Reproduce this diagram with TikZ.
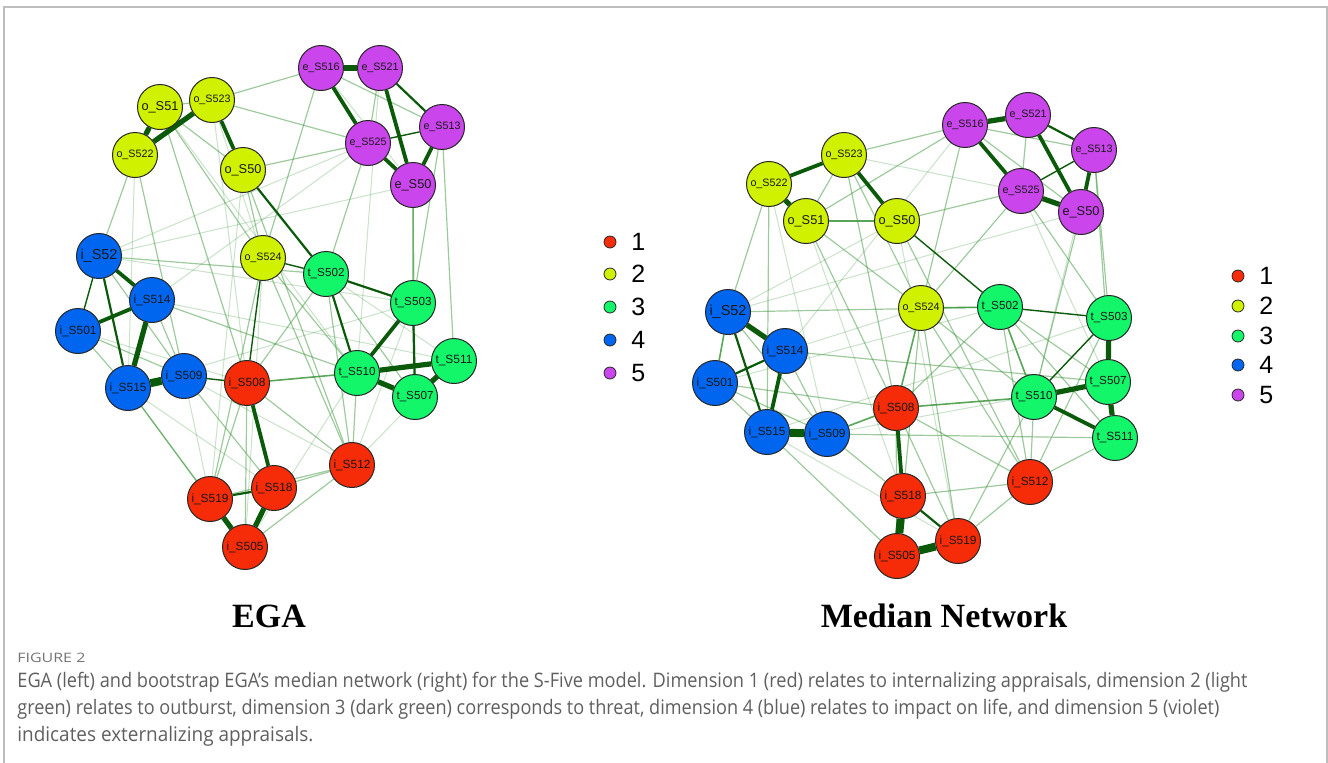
\documentclass[tikz,border=0pt]{standalone}
\usepackage{fontspec}
\setmainfont{Liberation Sans}
\newfontfamily\titlefont{Liberation Serif}
\newfontfamily\capfont{Open Sans}
\usetikzlibrary{backgrounds}
\definecolor{dimA}{RGB}{246,44,8}
\definecolor{dimB}{RGB}{208,242,0}
\definecolor{dimC}{RGB}{20,246,106}
\definecolor{dimD}{RGB}{0,102,240}
\definecolor{dimE}{RGB}{202,70,236}
\definecolor{edg}{RGB}{10,90,10}
\definecolor{edglite}{RGB}{60,150,60}
\definecolor{framegray}{RGB}{190,190,190}
\definecolor{capgray}{RGB}{95,95,95}
\newcommand{\nlab}[1]{\resizebox{18.5pt}{!}{#1}}
\newcommand{\capline}[2]{\resizebox{#1}{\height}{#2}}

\begin{document}
\begin{tikzpicture}[x=.5pt,y=-.5pt,
  nd/.style={circle,draw=black!85,line width=.5pt,minimum size=22.5pt,inner sep=0pt,text=black!90},
  vthk/.style={edg,line width=4pt},
  thk/.style={edg,line width=2.6pt},
  mid/.style={edg,line width=1.9pt},
  drk/.style={edg,line width=1.1pt},
  thn/.style={edg,line width=.7pt},
  med/.style={edglite,line width=.8pt,opacity=.85},
  fnt/.style={edglite,line width=.6pt,opacity=.5},
  vfnt/.style={edglite,line width=.5pt,opacity=.28},
  dot/.style={circle,draw=black!85,line width=.4pt,minimum size=6pt,inner sep=0pt},
  num/.style={font=\fontsize{12.5}{12.5}\selectfont,anchor=west,inner sep=0pt}]
\useasboundingbox (0,0) rectangle (1328,762);
\draw[framegray,line width=1pt] (4,770) -- (4,7) -- (1327,7) -- (1327,770);

% EGA
\foreach \nm/\lb/\px/\py/\cl in {
  e516/e\_S516/321/68/dimE, e521/e\_S521/380/68/dimE, e513/e\_S513/442/127/dimE,
  e525/e\_S525/368/143/dimE, e50/e\_S50/413/185/dimE,
  o51/o\_S51/160/107/dimB, o523/o\_S523/212/100/dimB, o522/o\_S522/135/155/dimB,
  o50/o\_S50/243/170/dimB, o524/o\_S524/263/258/dimB,
  i52/i\_S52/99/256/dimD, i514/i\_S514/152/300/dimD, i501/i\_S501/78/331/dimD,
  i515/i\_S515/128/388/dimD, i509/i\_S509/184/376/dimD,
  t502/t\_S502/326/274/dimC, t503/t\_S503/413/303/dimC, t510/t\_S510/357/373/dimC,
  t511/t\_S511/454/361/dimC, t507/t\_S507/415/397/dimC,
  i508/i\_S508/247/383/dimA, i512/i\_S512/352/465/dimA, i518/i\_S518/274/488/dimA,
  i519/i\_S519/210/499/dimA, i505/i\_S505/245/547/dimA}
  \node[nd,fill=\cl] (L\nm) at (\px,\py) {\nlab{\lb}};

\begin{pgfonlayer}{background}
\foreach \a/\b in {o523/o524,o523/i508,o522/i515,o51/t510,o50/i519,e516/e50,e521/t510,
  e525/i514,e50/i52,i52/t503,i501/i508,i515/i518,i509/i512,i509/i519,o524/i505,
  t502/t511,t503/i512,t511/i512,i505/t510,t503/i515,i514/t511,i52/e525}
  \draw[vfnt] (L\a) -- (L\b);
\foreach \a/\b in {o51/o523,o51/o50,o523/e516,o523/e525,o522/i52,o522/i509,o51/i508,
  o51/o524,o50/o524,o50/e525,o50/i512,e516/o524,e516/e513,e521/e525,e525/t502,
  e513/t511,e513/t503,e50/t503,e50/t507,i52/t502,i52/i509,i514/t510,i514/i509,
  i501/i515,i501/i509,i515/i519,i515/i505,i509/i518,i508/i505,i508/i519,i508/i512,
  i508/t502,o524/i519,o524/i512,o524/t510,t502/i512,t502/t507,t510/i512,i518/i512,
  i519/i512,i505/i512}
  \draw[fnt] (L\a) -- (L\b);
\foreach \a/\b in {e525/e513,o524/t502,i52/i501,i508/o524,i509/i508}
  \draw[thn] (L\a) -- (L\b);
\draw[med] (Li508) -- (Lt510);
\foreach \a/\b in {e521/e513,o50/t502,t502/t503,t502/t510,t503/t507,i52/i515,i518/i519}
  \draw[drk] (L\a) -- (L\b);
\foreach \a/\b in {e516/e525,e521/e50,e513/e50,e525/e50,o523/o50,i52/i514,i501/i514,
  i508/i518,t503/t510}
  \draw[mid] (L\a) -- (L\b);
\foreach \a/\b in {e516/e521,o51/o522,o522/o523,i515/i514,i518/i505,i519/i505,
  t510/t511,t510/t507,t507/t511}
  \draw[thk] (L\a) -- (L\b);
\draw[vthk] (Li515) -- (Li509);
\end{pgfonlayer}

% Median network
\foreach \nm/\lb/\px/\py/\cl in {
  e516/e\_S516/965/125/dimE, e521/e\_S521/1028/115/dimE, e513/e\_S513/1094/150/dimE,
  e525/e\_S525/1021/191/dimE, e50/e\_S50/1081/212/dimE,
  o523/o\_S523/844/155/dimB, o522/o\_S522/769/184/dimB, o51/o\_S51/806/221/dimB,
  o50/o\_S50/897/221/dimB, o524/o\_S524/921/308/dimB,
  i52/i\_S52/728/312/dimD, i514/i\_S514/785/351/dimD, i501/i\_S501/715/383/dimD,
  i515/i\_S515/767/432/dimD, i509/i\_S509/827/434/dimD,
  t502/t\_S502/1000/307/dimC, t503/t\_S503/1109/318/dimC, t510/t\_S510/1034/397/dimC,
  t507/t\_S507/1108/382/dimC, t511/t\_S511/1115/438/dimC,
  i508/i\_S508/896/408/dimA, i512/i\_S512/1030/482/dimA, i518/i\_S518/903/496/dimA,
  i519/i\_S519/958/541/dimA, i505/i\_S505/897/556/dimA}
  \node[nd,fill=\cl] (R\nm) at (\px,\py) {\nlab{\lb}};

\begin{pgfonlayer}{background}
\foreach \a/\b in {o523/e525,o51/i518,e516/i514,e525/t507,i514/o524,i515/i519,
  t507/i509,o522/i509,e50/i52,i52/o50,t503/i515,e513/t510,o50/i519,i501/t502}
  \draw[vfnt] (R\a) -- (R\b);
\foreach \a/\b in {o523/o51,o523/e516,o523/o524,o523/i508,o522/i52,o522/i515,o51/e516,
  o51/o524,o51/i508,o50/e525,o50/i512,e516/o524,e516/e513,e516/e50,e521/e525,
  e525/o524,e525/t503,e50/t510,e513/t503,e513/t511,i52/t502,i52/i509,i514/t507,
  i514/i509,i501/i515,i501/i509,i501/i508,i515/i505,i509/t511,i509/i518,i508/i505,
  i508/i512,i508/i519,i508/t502,o524/i512,o524/i519,o524/i518,o524/t510,t502/i512,
  t502/t507,t502/t511,t510/i512,t510/i519,t503/i512,i518/i512,i519/i512,t511/i512}
  \draw[fnt] (R\a) -- (R\b);
\foreach \a/\b in {o524/t502,t502/t510,o51/o50,i508/o524,i509/i508,i508/t510,i52/i501}
  \draw[med] (R\a) -- (R\b);
\foreach \a/\b in {e525/e513,o50/t502,t502/t503,t503/t510}
  \draw[thn] (R\a) -- (R\b);
\foreach \a/\b in {e521/e513,i52/i515,i501/i514,i518/i519}
  \draw[drk] (R\a) -- (R\b);
\foreach \a/\b in {e516/e525,e521/e50,e513/e50,o522/o523,o523/o50,i514/i515,
  i508/i518,t510/t511}
  \draw[mid] (R\a) -- (R\b);
\foreach \a/\b in {e516/e521,o522/o51,t507/t511,t510/t507,i52/i514,e525/e50,t503/t507}
  \draw[thk] (R\a) -- (R\b);
\foreach \a/\b in {i515/i509,i518/i505,i505/i519}
  \draw[vthk] (R\a) -- (R\b);
\end{pgfonlayer}

% legends
\foreach \k/\cl/\ly in {1/dimA/242,2/dimB/274,3/dimC/307,4/dimD/340,5/dimE/373}{
  \node[dot,fill=\cl] (ldot\k) at (610,\ly) {};
  \node[num] (lnum\k) at (631,\ly) {\k};
}
\foreach \k/\cl/\ly in {1/dimA/276,2/dimB/306,3/dimC/336,4/dimD/365,5/dimE/395}{
  \node[dot,fill=\cl] (rdot\k) at (1238,\ly) {};
  \node[num] (rnum\k) at (1259,\ly) {\k};
}

\node[font=\titlefont\bfseries\fontsize{17}{17}\selectfont,anchor=base] (ttlL) at (269,627) {EGA};
\node[font=\titlefont\bfseries\fontsize{17}{17}\selectfont,anchor=base] (ttlR) at (944,627) {Median Network};

\node[anchor=base west,inner sep=0pt,text=black!55,font=\capfont\fontsize{6.5}{6.5}\selectfont] (fig) at (17,662)
  {\capline{34pt}{FIGURE 2}};
\node[anchor=base west,inner sep=0pt,text=capgray,font=\capfont\fontsize{10}{10}\selectfont] (cap1) at (17,687)
  {\capline{615pt}{EGA (left) and bootstrap EGA’s median network (right) for the S-Five model. Dimension 1 (red) relates to internalizing appraisals, dimension 2 (light}};
\node[anchor=base west,inner sep=0pt,text=capgray,font=\capfont\fontsize{10}{10}\selectfont] (cap2) at (17,714)
  {\capline{601pt}{green) relates to outburst, dimension 3 (dark green) corresponds to threat, dimension 4 (blue) relates to impact on life, and dimension 5 (violet)}};
\node[anchor=base west,inner sep=0pt,text=capgray,font=\capfont\fontsize{10}{10}\selectfont] (cap3) at (17,741)
  {\capline{148pt}{indicates externalizing appraisals.}};
\end{tikzpicture}
\end{document}
